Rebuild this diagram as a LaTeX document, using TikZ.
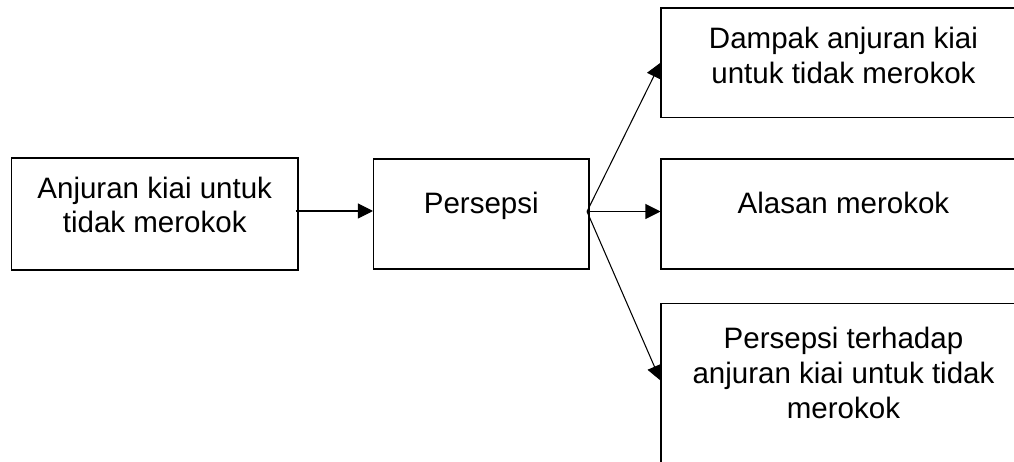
\documentclass[tikz,border=0pt]{standalone}
\usepackage{fontspec}
\setmainfont{Liberation Sans}
\usetikzlibrary{arrows.meta,positioning}

\begin{document}
\begin{tikzpicture}[x=0.02cm,y=-0.02cm,line width=0.6pt,
		box/.style={draw,rectangle,minimum height=2.2cm,inner sep=0pt},
		txt/.style={align=center,inner sep=0pt,font=\fontsize{16.8}{19.8}\selectfont},
		arr/.style={-{Triangle[length=0.3cm,width=0.3cm]}}]
			\useasboundingbox	(0,0) rectangle (1014,462);
			\clip				(0,0) rectangle (1014,462);

			\node	[box,minimum width=5.73cm,minimum height=2.24cm]	(anjuran)	at (154.75,214)					{};
			\node	[box,minimum width=4.31cm,minimum height=2.2cm]		(persepsi)	[right=1.49cm of anjuran]		{};
			\node	[box,minimum width=7.3cm]							(alasan)	[right=1.42cm of persepsi]		{};
			\node	[box,minimum width=7.3cm,minimum height=2.19cm]		(dampak)	[above=0.81cm of alasan]		{};
			\node	[box,minimum width=7.3cm,minimum height=4cm]		(terhadap)	[below=0.67cm of alasan]		{};

			\node	[txt]	(tAnjuran)	at ([yshift=0.18cm]anjuran.center)		{Anjuran kiai untuk\\tidak merokok};
			\node	[txt]	(tPersepsi)	at ([yshift=0.16cm]persepsi.center)		{Persepsi};
			\node	[txt]	(tAlasan)	at ([yshift=0.22cm]alasan.center)		{Alasan merokok};
			\node	[txt]	(tDampak)	at ([yshift=0.14cm]dampak.center)		{Dampak anjuran kiai\\untuk tidak merokok};
			\node	[txt]	(tTerhadap)	at ([yshift=-1.4cm]terhadap.north)		{Persepsi terhadap\\anjuran kiai untuk tidak\\merokok};

			\coordinate	(fork)	at ([xshift=-0.05cm,yshift=0.05cm]persepsi.east);
			\coordinate	(tip)	at ([yshift=-1.55cm]terhadap.north west);

			\draw	[arr]	([xshift=-0.06cm,yshift=0.06cm]anjuran.east)	--	([yshift=0.06cm]persepsi.west);
			\draw	[arr]	(fork)	--	(dampak.west);
			\draw	[arr]	(fork)	--	(fork -| alasan.west);
			\draw	[arr]	(fork)	--	(tip);
		\end{tikzpicture}
\end{document}
